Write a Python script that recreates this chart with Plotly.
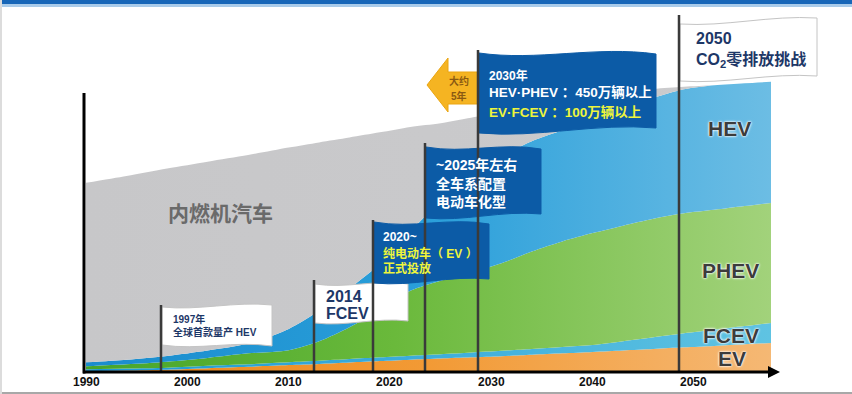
import plotly.graph_objects as go

# ---------------- data (stacked shares, arbitrary index units) ----------------
years = [1990, 1994, 1998, 2002, 2006, 2010, 2013, 2016, 2019, 2022, 2025,
         2028, 2031, 2034, 2037, 2040, 2043, 2046, 2049, 2052, 2055, 2057.6]
ev   = [0.3, 0.5, 0.8, 1.3, 1.8, 2.4, 2.8, 3.3, 3.8, 4.3, 4.7,
        5.1, 5.5, 6.0, 6.5, 7.0, 7.5, 8.0, 8.6, 9.1, 9.7, 10.1]
fcev = [0.7, 0.7, 0.7, 0.9, 0.9, 1.0, 1.1, 1.2, 1.3, 1.4, 1.5,
        1.7, 1.9, 2.0, 2.2, 2.4, 3.2, 4.1, 4.9, 5.6, 6.3, 7.0]
phev = [1.0, 1.5, 2.1, 2.7, 3.8, 4.2, 6.8, 11.1, 16.5, 22.6, 25.6,
        27.9, 30.5, 34.0, 36.8, 39.0, 40.3, 41.3, 41.8, 41.8, 41.8, 41.8]
hev  = [1.4, 1.6, 2.0, 2.6, 3.4, 7.4, 10.6, 13.5, 16.0, 20.7, 27.7,
        33.4, 37.3, 38.4, 38.7, 39.5, 40.7, 42.1, 43.2, 43.4, 42.8, 42.2]
ice  = [62.5, 64.0, 65.3, 65.8, 65.7, 63.2, 58.7, 52.6, 45.9, 36.4, 27.2,
        20.5, 15.1, 11.5, 9.3, 7.1, 4.8, 3.1, 0.9, 0.0, 0.0, 0.0]

tick_years = [1990, 2000, 2010, 2020, 2030, 2040, 2050]
tick_labels = ["1990", "2000", "2010", "2020", "2030", "2040", "2050"]

series_names = ["EV", "FCEV", "PHEV", "HEV", "内燃机汽车"]
series_values = [ev, fcev, phev, hev, ice]

# ---------------- pixel <-> data helpers for decorations ----------------
W, H = 852, 394
PX_1990, PX_PER_YEAR = 86.0, 10.133
PY_BASE, PX_PER_UNIT = 372.0, 2.87


def X(px):
    return 1990 + (px - PX_1990) / PX_PER_YEAR


def Y(py):
    return (PY_BASE - py) / PX_PER_UNIT


FONT = "Liberation Sans, 'Noto Sans CJK SC', sans-serif"
NAVY = "#1d3767"
BLUE = "#0c5ba6"
YELLOW = "#eef53c"

fig = go.Figure()

gradients = [
    [[0, "#ec8619"], [0.5, "#f29a35"], [1, "#f5b874"]],
    [[0, "#1d98d3"], [1, "#5fc3e2"]],
    [[0, "#46a52a"], [0.45, "#6ab93b"], [1, "#a2d27b"]],
    [[0, "#1a8ccd"], [0.5, "#2a9fda"], [1, "#6cbde4"]],
    [[0, "#c7c7c9"], [1, "#cbcbcd"]],
]
for name, vals, cs in zip(series_names, series_values, gradients):
    fig.add_trace(go.Scatter(
        x=years, y=vals, name=name, stackgroup="one", mode="lines",
        line=dict(width=0, shape="spline", smoothing=0.8),
        fillgradient=dict(type="horizontal", colorscale=cs),
        hoverinfo="skip", showlegend=False,
    ))

shapes = []
# top blue band, bottom/left borders
shapes.append(dict(type="rect", xref="paper", yref="paper", x0=0, x1=1,
                   y0=1 - 4 / H, y1=1, fillcolor="#1766b8", line_width=0, layer="above"))
shapes.append(dict(type="rect", xref="paper", yref="paper", x0=0, x1=1,
                   y0=1 - 7 / H, y1=1 - 4 / H, fillcolor="#a9cbea", line_width=0, layer="above"))
shapes.append(dict(type="rect", xref="paper", yref="paper", x0=0, x1=1,
                   y0=0, y1=2 / H, fillcolor="#a8a8a8", line_width=0, layer="above"))
shapes.append(dict(type="rect", xref="paper", yref="paper", x0=0, x1=2 / W,
                   y0=0, y1=1, fillcolor="#dcdcdc", line_width=0, layer="above"))


def flag_path(x0, x1, yt0, yt1, yb0, yb1, amp):
    w = x1 - x0
    pts_top = [(x0 + 0.33 * w, (yt0 + yt1) / 2 + amp), (x0 + 0.66 * w, (yt0 + yt1) / 2 - amp)]
    pts_bot = [(x0 + 0.66 * w, (yb0 + yb1) / 2 - amp), (x0 + 0.33 * w, (yb0 + yb1) / 2 + amp)]
    p = f"M {X(x0)},{Y(yt0)} C {X(pts_top[0][0])},{Y(pts_top[0][1])} {X(pts_top[1][0])},{Y(pts_top[1][1])} {X(x1)},{Y(yt1)} "
    p += f"L {X(x1)},{Y(yb1)} C {X(pts_bot[0][0])},{Y(pts_bot[0][1])} {X(pts_bot[1][0])},{Y(pts_bot[1][1])} {X(x0)},{Y(yb0)} Z"
    return p


flags = [
    (162, 272, 307, 305, 345, 346, 5, "white"),
    (315, 408, 284, 284, 323, 321, 5, "white"),
    (374, 489, 222, 224, 283, 279, 6, BLUE),
    (426, 541, 147, 149, 218, 214, 6, BLUE),
    (479, 656, 53, 54, 133, 128, 8, BLUE),
    (680, 817, 24, 18, 81, 76, 6, "white"),
]
for x0, x1, yt0, yt1, yb0, yb1, amp, col in flags:
    shapes.append(dict(type="path", xref="x", yref="y",
                       path=flag_path(x0, x1, yt0, yt1, yb0, yb1, amp),
                       fillcolor=col,
                       line=dict(color="#c4c4c4" if col == "white" else col, width=1),
                       layer="above"))

# yellow arrow pointing left
arrow = [(427, 85), (448, 58), (448, 72), (478, 72), (478, 104), (448, 104), (448, 112)]
p = "M " + " L ".join(f"{X(a)},{Y(b)}" for a, b in arrow) + " Z"
shapes.append(dict(type="path", xref="x", yref="y", path=p, fillcolor="#f5b422",
                   line=dict(color="#eaa512", width=1), layer="above"))

# flag poles
poles = [(161, 305), (314, 280), (373, 220), (425, 143), (478, 50), (679, 15)]
for px, top in poles:
    shapes.append(dict(type="line", xref="x", yref="y", x0=X(px), x1=X(px),
                       y0=0, y1=Y(top), line=dict(color="#3a3a3a", width=2.5), layer="above"))

# axes
shapes.append(dict(type="line", xref="x", yref="y", x0=X(84), x1=X(84), y0=-0.5, y1=Y(93),
                   line=dict(color="black", width=3), layer="above"))
shapes.append(dict(type="line", xref="x", yref="y", x0=X(83), x1=X(770), y0=0, y1=0,
                   line=dict(color="black", width=3), layer="above"))
shapes.append(dict(type="path", xref="x", yref="y",
                   path=f"M {X(768)},{Y(366)} L {X(780)},{Y(372)} L {X(768)},{Y(378)} Z",
                   fillcolor="black", line_width=0, layer="above"))

annotations = []


def txt(text, px, py, size, color, anchor="left", shadow=None):
    f = dict(family=FONT, size=size, color=color)
    if shadow:
        f["shadow"] = shadow
    annotations.append(dict(text=text, x=X(px), y=Y(py), xref="x", yref="y",
                            xanchor=anchor, yanchor="middle", showarrow=False, font=f))


for yr, lab in zip(tick_years, tick_labels):
    annotations.append(dict(text=f"<b>{lab}</b>", x=yr, y=Y(382), xref="x", yref="y",
                            xanchor="center", yanchor="middle", showarrow=False,
                            font=dict(family=FONT, size=12, color="#111111")))

txt("<b>1997年</b>", 171, 319, 10, NAVY)
txt("<b>全球首款量产 HEV</b>", 171, 332, 10, NAVY)
txt("<b>2014</b>", 324, 296, 16, NAVY)
txt("<b>FCEV</b>", 324, 313, 16, NAVY)
txt("<b>2020~</b>", 381, 237, 12, "white")
txt("<b>纯电动车（ EV ）</b>", 381, 253, 12, YELLOW)
txt("<b>正式投放</b>", 381, 268, 12, YELLOW)
txt("<b>~2025年左右</b>", 434, 165, 14, "white")
txt("<b>全车系配置</b>", 434, 184, 14, "white")
txt("<b>电动车化型</b>", 434, 202, 14, "white")
txt("<b>2030年</b>", 487, 75, 12, "white")
txt("<b>HEV·PHEV ：450万辆以上</b>", 487, 92, 13.5, "white")
txt("<b>EV·FCEV ：100万辆以上</b>", 487, 112, 13.5, YELLOW)
txt("<b>大约</b>", 459, 81, 10, "#8a5a12", anchor="center")
txt("<b>5年</b>", 459, 96, 10, "#8a5a12", anchor="center")
txt("<b>2050</b>", 694, 38, 16, NAVY)
txt("<b>CO<sub>2</sub>零排放挑战</b>", 694, 60, 16, NAVY)

glow = "0px 0px 3px white, 0px 0px 2px white, 0px 0px 1px white"
txt("<b>内燃机汽车</b>", 220, 213, 21, "#6a6a6a", anchor="center")
txt("<b>HEV</b>", 729, 128, 21, "#3c3c3c", anchor="center", shadow=glow)
txt("<b>PHEV</b>", 730, 270, 21, "#3c3c3c", anchor="center", shadow=glow)
txt("<b>FCEV</b>", 731, 335, 21, "#3c3c3c", anchor="center", shadow=glow)
txt("<b>EV</b>", 732, 358, 21, "#3c3c3c", anchor="center", shadow=glow)

fig.update_layout(
    width=W, height=H, autosize=False,
    margin=dict(l=0, r=0, t=0, b=0, pad=0),
    paper_bgcolor="white", plot_bgcolor="white",
    xaxis=dict(range=[X(0), X(W)], visible=False, fixedrange=True),
    yaxis=dict(range=[Y(H), Y(0)], visible=False, fixedrange=True),
    shapes=shapes, annotations=annotations, showlegend=False,
)

fig.write_html("out.html", config={"displayModeBar": False},
               post_script="document.body.style.margin='0';document.body.style.overflow='hidden';")
